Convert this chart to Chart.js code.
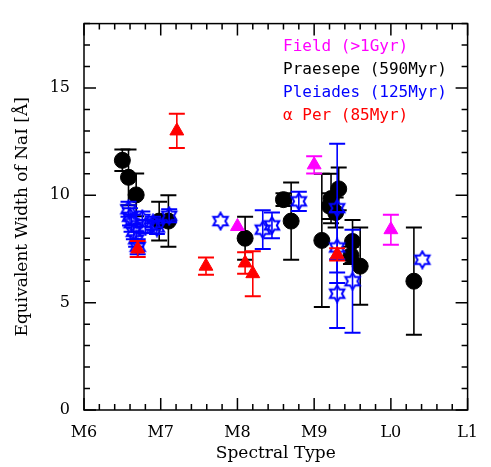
<!DOCTYPE html>
<html lang="en">
<head>
  <meta charset="UTF-8" />
  <title>NaI Equivalent Width vs Spectral Type</title>
  <script src="https://cdn.jsdelivr.net/npm/chart.js"></script>
  <style>
    body { margin: 0; background: white; }
    #wrap { width: 491px; height: 467px; }
  </style>
</head>
<body>
  <div id="wrap"><canvas id="ewChart"></canvas></div>

  <script>
    const xTickNames = ['M6', 'M7', 'M8', 'M9', 'L0', 'L1'];
    const yTickLabels = [0, 5, 10, 15];

    // Praesepe (590 Myr)
    const praeSpT = [6.5, 6.58, 6.68, 6.98, 7.1, 8.1, 8.6, 8.7, 9.1, 9.2, 9.22, 9.28, 9.32, 9.48, 9.5, 9.6, 10.3];
    const praeEW  = [11.63, 10.84, 10.02, 8.8, 8.8, 8.0, 9.8, 8.8, 7.9, 9.5, 9.85, 9.2, 10.3, 7.2, 7.85, 6.7, 6.0];
    const praeErr = [0.5, 1.3, 1.0, 0.9, 1.2, 1.0, 0.3, 1.8, 3.1, 0.6, 1.15, 0.7, 1.0, 0.4, 1.0, 1.8, 2.5];

    // Pleiades (125 Myr)
    const pleiSpT = [6.58, 6.6, 6.62, 6.65, 6.68, 6.7, 6.76, 6.8, 6.9, 6.95, 7.11, 7.78, 8.33, 8.45, 8.8, 9.3, 9.3, 9.3, 9.5, 10.41];
    const pleiEW  = [9.35, 9.0, 8.7, 8.3, 7.95, 7.6, 8.9, 8.55, 8.7, 8.5, 9.05, 8.8, 8.4, 8.6, 9.72, 9.4, 7.57, 5.42, 6.0, 7.0];
    const pleiErr = [0.35, 0.4, 0.4, 0.35, 0.35, 0.35, 0.35, 0.3, 0.3, 0.3, 0.3, 0, 0.9, 0.6, 0.45, 3.0, 1.65, 1.6, 2.4, 0];

    // Field (>1 Gyr)
    const fieldSpT = [8.0, 9.0, 10.0];
    const fieldEW  = [8.55, 11.42, 8.4];
    const fieldErr = [0, 0.4, 0.7];

    // alpha Per (85 Myr)
    const aperSpT = [6.7, 7.21, 7.59, 8.1, 8.2, 9.3];
    const aperEW  = [7.5, 13.0, 6.7, 6.85, 6.35, 7.25];
    const aperErr = [0.37, 0.8, 0.4, 0.5, 1.05, 0.28];

    const legendLines = [
      { text: 'Field (>1Gyr)', color: '#ff00ff' },
      { text: 'Praesepe (590Myr)', color: '#000000' },
      { text: 'Pleiades (125Myr)', color: '#0000ff' },
      { text: 'α Per (85Myr)', color: '#ff0000' }
    ];

    const pts = (xs, ys) => xs.map((x, i) => ({ x: x, y: ys[i] }));

    function makeStar(color) {
      const c = document.createElement('canvas');
      c.width = 20; c.height = 20;
      const g = c.getContext('2d');
      g.strokeStyle = color;
      g.lineWidth = 2;
      g.beginPath();
      for (let i = 0; i < 12; i++) {
        const r = i % 2 === 0 ? 8.3 : 4.8;
        const a = -Math.PI / 2 + i * Math.PI / 6;
        const px = 10 + r * Math.cos(a), py = 10 + r * Math.sin(a);
        if (i === 0) g.moveTo(px, py); else g.lineTo(px, py);
      }
      g.closePath();
      g.stroke();
      return c;
    }

    const errorBars = {
      id: 'errorBars',
      beforeDatasetDraw(chart, args) {
        const ds = chart.data.datasets[args.index];
        if (!ds.errors) return;
        const xs = chart.scales.x, ys = chart.scales.y, ctx = chart.ctx;
        ctx.save();
        ctx.strokeStyle = ds.borderColor;
        ds.data.forEach((p, i) => {
          const e = ds.errors[i];
          if (!e) return;
          const px = xs.getPixelForValue(p.x);
          const top = ys.getPixelForValue(p.y + e);
          const bot = ys.getPixelForValue(p.y - e);
          ctx.lineWidth = 1.6;
          ctx.beginPath();
          ctx.moveTo(px, top); ctx.lineTo(px, bot);
          ctx.stroke();
          ctx.lineWidth = 2;
          ctx.beginPath();
          ctx.moveTo(px - 8, top); ctx.lineTo(px + 8, top);
          ctx.moveTo(px - 8, bot); ctx.lineTo(px + 8, bot);
          ctx.stroke();
        });
        ctx.restore();
      }
    };

    const frame = {
      id: 'frame',
      afterDraw(chart) {
        const { ctx, chartArea: a } = chart;
        const xs = chart.scales.x, ys = chart.scales.y;
        ctx.save();
        ctx.strokeStyle = '#000';
        ctx.lineWidth = 1.5;
        ctx.strokeRect(a.left, a.top, a.right - a.left, a.bottom - a.top);
        ctx.beginPath();
        xs.ticks.forEach(t => {
          const major = Math.abs(t.value - Math.round(t.value)) < 1e-6;
          const len = major ? 12 : 6;
          const px = xs.getPixelForValue(t.value);
          ctx.moveTo(px, a.bottom); ctx.lineTo(px, a.bottom - len);
          ctx.moveTo(px, a.top); ctx.lineTo(px, a.top + len);
        });
        ys.ticks.forEach(t => {
          const major = t.value % 5 === 0;
          const len = major ? 12 : 6;
          const py = ys.getPixelForValue(t.value);
          ctx.moveTo(a.left, py); ctx.lineTo(a.left + len, py);
          ctx.moveTo(a.right, py); ctx.lineTo(a.right - len, py);
        });
        ctx.stroke();

        ctx.font = '16px "DejaVu Sans Mono"';
        ctx.textAlign = 'left';
        ctx.textBaseline = 'alphabetic';
        legendLines.forEach((l, i) => {
          ctx.fillStyle = l.color;
          ctx.fillText(l.text, a.left + 199, a.top + 27 + i * 23);
        });
        ctx.restore();
      }
    };

    new Chart(document.getElementById('ewChart'), {
      type: 'scatter',
      data: {
        datasets: [
          {
            label: 'Praesepe (590Myr)',
            data: pts(praeSpT, praeEW),
            errors: praeErr,
            borderColor: '#000000',
            backgroundColor: '#000000',
            pointStyle: 'circle',
            pointRadius: 8,
            order: 4
          },
          {
            label: 'Pleiades (125Myr)',
            data: pts(pleiSpT, pleiEW),
            errors: pleiErr,
            borderColor: '#0000ff',
            backgroundColor: '#0000ff',
            pointStyle: makeStar('#0000ff'),
            order: 3
          },
          {
            label: 'Field (>1Gyr)',
            data: pts(fieldSpT, fieldEW),
            errors: fieldErr,
            borderColor: '#ff00ff',
            backgroundColor: '#ff00ff',
            pointStyle: 'triangle',
            pointRadius: 8,
            order: 2
          },
          {
            label: 'α Per (85Myr)',
            data: pts(aperSpT, aperEW),
            errors: aperErr,
            borderColor: '#ff0000',
            backgroundColor: '#ff0000',
            pointStyle: 'triangle',
            pointRadius: 8,
            order: 1
          }
        ]
      },
      options: {
        responsive: true,
        maintainAspectRatio: false,
        animation: false,
        events: [],
        layout: { padding: { top: 6, right: 11, left: 0, bottom: 0 } },
        plugins: {
          legend: { display: false },
          tooltip: { enabled: false }
        },
        scales: {
          x: {
            type: 'linear',
            min: 6,
            max: 11,
            grid: { display: false, drawTicks: false },
            border: { display: false },
            afterFit: s => { s.height = 57; },
            ticks: {
              stepSize: 0.2,
              autoSkip: false,
              maxRotation: 0,
              padding: 13,
              color: '#000',
              font: { family: '"DejaVu Serif"', size: 16 },
              callback: v => {
                const r = Math.round(v);
                return Math.abs(v - r) < 1e-6 ? xTickNames[r - 6] : '';
              }
            },
            title: {
              display: true,
              text: 'Spectral Type',
              color: '#000',
              font: { family: '"DejaVu Serif"', size: 17 },
              padding: { top: 0, bottom: 3 }
            }
          },
          y: {
            min: 0,
            max: 18,
            grid: { display: false, drawTicks: false },
            border: { display: false },
            afterFit: s => { s.width = 84; },
            ticks: {
              stepSize: 1,
              autoSkip: false,
              padding: 14,
              color: '#000',
              font: { family: '"DejaVu Serif"', size: 16 },
              callback: v => yTickLabels.includes(v) ? String(v) : ''
            },
            title: {
              display: true,
              text: 'Equivalent Width of NaI [Å]',
              color: '#000',
              font: { family: '"DejaVu Serif"', size: 17 },
              padding: { top: 12, bottom: 0 }
            }
          }
        }
      },
      plugins: [errorBars, frame]
    });
  </script>
</body>
</html>
